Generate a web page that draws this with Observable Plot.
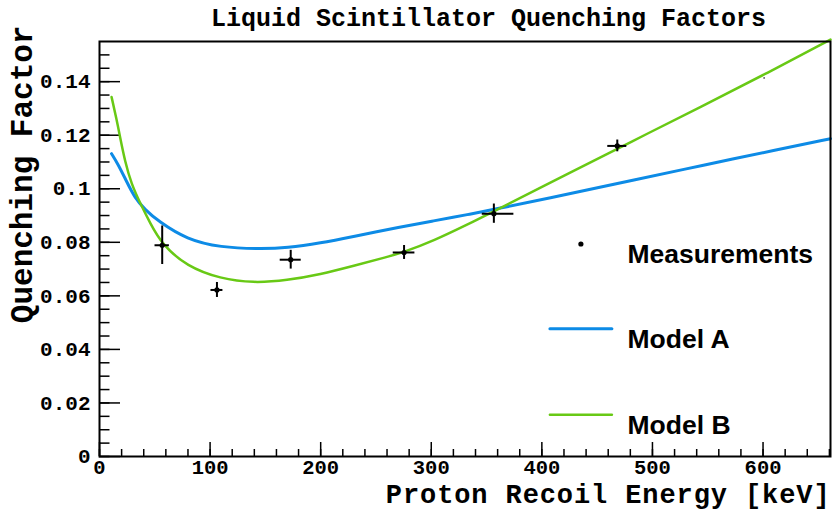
<!DOCTYPE html>
<html><head><meta charset="utf-8">
<script src="https://cdn.jsdelivr.net/npm/d3@7"></script>
<script src="https://cdn.jsdelivr.net/npm/@observablehq/plot@0.6"></script>
<style>
html,body{margin:0;padding:0;background:#fff;}
#chart{width:835px;height:511px;}
</style></head><body><div id="chart"></div>
<script>
const chartTitle = "Liquid Scintillator Quenching Factors";
const xTitle = "Proton Recoil Energy [keV]";
const yTitle = "Quenching Factor";
const xTicks = [0, 100, 200, 300, 400, 500, 600];
const xTickLabels = ["0", "100", "200", "300", "400", "500", "600"];
const yTicks = [0, 0.02, 0.04, 0.06, 0.08, 0.1, 0.12, 0.14];
const yTickLabels = ["0", "0.02", "0.04", "0.06", "0.08", "0.1", "0.12", "0.14"];

// Measurements (keV, quenching factor, errors)
const measEnergy = [56.7, 106.2, 172.9, 275.4, 356.6, 468.2];
const measQF     = [0.0789, 0.0622, 0.0735, 0.0762, 0.0907, 0.1160];
const measErrELow  = [6.5, 5.4, 9.5, 9.8, 10.5, 8.6];
const measErrEHigh = [6.5, 5.4, 9.5, 9.8, 18.1, 8.6];
const measErrQF    = [0.0072, 0.0028, 0.0035, 0.0026, 0.0036, 0.0022];

// Model A curve
const modelAEnergy = [10.9, 16.9, 24.4, 32.0, 41.1, 53.1, 79.1, 109.2, 145.4, 169.6, 199.7, 230.0, 272.1, 302.0, 332.6, 362.6, 398.8, 489.3, 543.6, 613.0, 661.0];
const modelAQF     = [0.1131, 0.1091, 0.1028, 0.0966, 0.0922, 0.0879, 0.0810, 0.0781, 0.0775, 0.0779, 0.0797, 0.0822, 0.0857, 0.0880, 0.0903, 0.0928, 0.0958, 0.1038, 0.1086, 0.1146, 0.1187];

// Model B curve
const modelBEnergy = [10.9, 15.4, 18.5, 23.0, 29.0, 36.6, 45.6, 56.7, 79.1, 109.2, 139.4, 169.6, 199.7, 230.0, 260.0, 275.7, 302.3, 332.5, 356.0, 398.8, 468.2, 489.3, 543.6, 601.0, 661.0];
const modelBQF     = [0.1343, 0.1260, 0.1195, 0.1103, 0.1016, 0.0948, 0.0873, 0.0791, 0.0710, 0.0664, 0.0648, 0.0658, 0.0680, 0.0712, 0.0745, 0.0764, 0.0806, 0.0866, 0.0914, 0.1004, 0.1149, 0.1193, 0.1306, 0.1426, 0.1557];

// stray marker seen in the picture
const strayEnergy = [601];
const strayQF = [0.1414];

const legendLabels = ["Measurements", "Model A", "Model B"];
const colorA = "#0d8be6";
const colorB = "#68c915";

const meas = measEnergy.map((e, i) => ({e, q: measQF[i], exl: measErrELow[i], exh: measErrEHigh[i], eq: measErrQF[i]}));
const lineA = modelAEnergy.map((e, i) => ({e, q: modelAQF[i]}));
const lineB = modelBEnergy.map((e, i) => ({e, q: modelBQF[i]}));
const stray = strayEnergy.map((e, i) => ({e, q: strayQF[i]}));
const xMinor = d3.range(0, 661, 20);
const yMinor = d3.range(0, 0.155, 0.005);
const xLab = new Map(xTicks.map((t, i) => [t, xTickLabels[i]]));
const yLab = new Map(yTicks.map((t, i) => [t, yTickLabels[i]]));

const mono = "'Liberation Mono', 'DejaVu Sans Mono', monospace";
const sans = "'Liberation Sans', Arial, sans-serif";
const legendDy = [221.7, 306.8, 392];

const chart = Plot.plot({
  width: 835, height: 511,
  marginLeft: 99, marginRight: 5, marginTop: 41, marginBottom: 55,
  x: {domain: [0, 661]},
  y: {domain: [0, 0.155]},
  style: {fontFamily: mono, background: "#fff", color: "#000"},
  marks: [
    Plot.axisX(xMinor, {tickSize: -7, text: null, label: null, strokeWidth: 1.5}),
    Plot.axisX(xTicks, {tickSize: -14, text: null, label: null, strokeWidth: 1.5}),
    Plot.axisX(xTicks, {tickSize: 0, tickPadding: 3, label: null, tickFormat: d => xLab.get(d), fontSize: 20.5, fontWeight: "bold", fontFamily: mono}),
    Plot.axisY(yMinor, {tickSize: -10.5, text: null, label: null, strokeWidth: 1.5}),
    Plot.axisY(yTicks, {tickSize: -21, text: null, label: null, strokeWidth: 1.5}),
    Plot.axisY(yTicks, {tickSize: 0, tickPadding: 9, label: null, tickFormat: d => yLab.get(d), fontSize: 21, fontWeight: "bold", fontFamily: mono}),
    Plot.line(lineA, {x: "e", y: "q", stroke: colorA, strokeWidth: 3, curve: "basis"}),
    Plot.line(lineB, {x: "e", y: "q", stroke: colorB, strokeWidth: 2.5, curve: "basis"}),
    Plot.ruleY(meas, {y: "q", x1: d => d.e - d.exl, x2: d => d.e + d.exh, stroke: "#000", strokeWidth: 2}),
    Plot.ruleX(meas, {x: "e", y1: d => d.q - d.eq, y2: d => d.q + d.eq, stroke: "#000", strokeWidth: 2}),
    Plot.dot(meas, {x: "e", y: "q", r: 2.6, fill: "#000"}),
    Plot.dot(stray, {x: "e", y: "q", r: 0.9, fill: "#555"}),
    Plot.frame({stroke: "#000", strokeWidth: 2}),
    Plot.text([chartTitle], {frameAnchor: "top", dx: 23.5, dy: -16, lineAnchor: "bottom", fontSize: 25, fontWeight: "bold", fontFamily: mono}),
    Plot.text([xTitle], {frameAnchor: "bottom-right", textAnchor: "end", lineAnchor: "bottom", dx: 0, dy: 46, fontSize: 27, fontWeight: "bold", fontFamily: mono}),
    Plot.text([yTitle], {frameAnchor: "top-left", rotate: -90, textAnchor: "end", lineAnchor: "bottom", dx: -68, dy: -16, fontSize: 31, fontWeight: "bold", fontFamily: mono}),
    // legend
    Plot.dot([0], {frameAnchor: "top-left", dx: 481.4, dy: 202.5, r: 2.6, fill: "#000"}),
    Plot.vector([0], {frameAnchor: "top-left", dx: 450.4, dy: 287.3, length: 62, rotate: 90, anchor: "start", stroke: colorA, strokeWidth: 3,
      shape: {draw(ctx, l) { ctx.moveTo(0, 0); ctx.lineTo(0, -l); }}}),
    Plot.vector([0], {frameAnchor: "top-left", dx: 450.4, dy: 373.2, length: 62, rotate: 90, anchor: "start", stroke: colorB, strokeWidth: 2.5,
      shape: {draw(ctx, l) { ctx.moveTo(0, 0); ctx.lineTo(0, -l); }}}),
    ...legendLabels.map((lab, i) => Plot.text([lab], {frameAnchor: "top-left", dx: 528, dy: legendDy[i], textAnchor: "start", lineAnchor: "bottom", fontSize: 26.5, fontWeight: "bold", fontFamily: sans}))
  ]
});
d3.select(chart).selectAll("text").filter(function () { return this.textContent === xTitle; }).attr("letter-spacing", "0.9px");
document.getElementById("chart").appendChild(chart);
</script>
</body></html>
